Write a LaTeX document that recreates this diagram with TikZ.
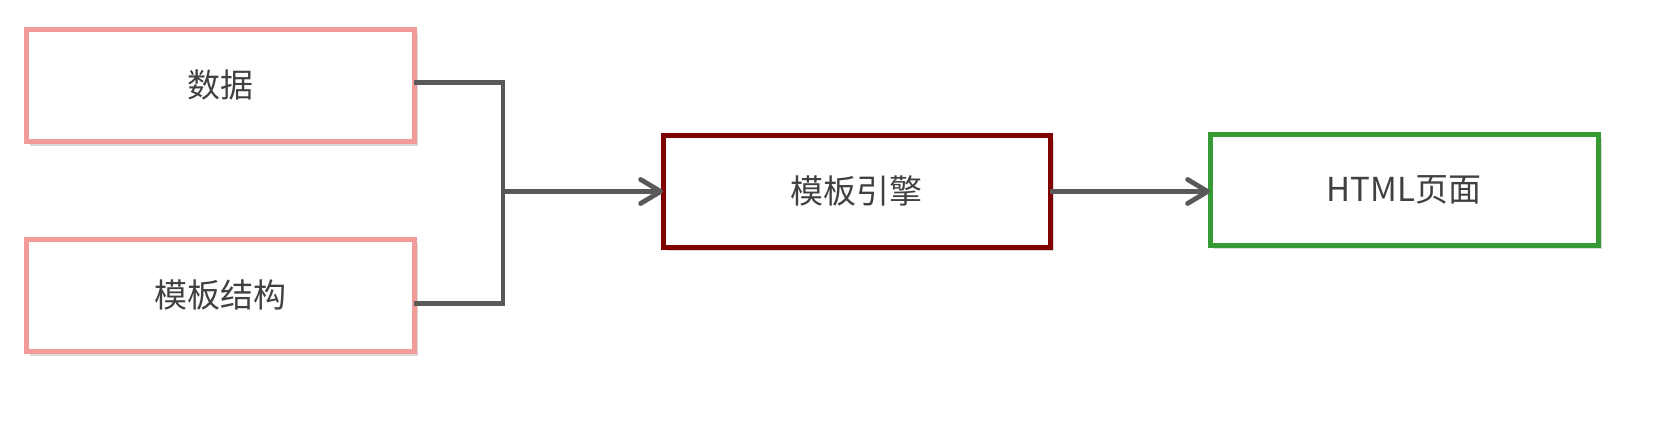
\documentclass[tikz,border=0pt]{standalone}
\usepackage{fontspec}
\newfontfamily\cjk{Noto Sans CJK SC}
\usetikzlibrary{arrows.meta,shadows,calc}
\definecolor{pinkline}{HTML}{F19C99}
\definecolor{darkred}{HTML}{800000}
\definecolor{greenline}{HTML}{369B35}
\definecolor{connline}{HTML}{595959}
\definecolor{txt}{HTML}{404040}
\tikzset{
  boxbase/.style={rectangle, draw, line width=5pt, fill=white, inner sep=0pt, outer sep=0pt,
    text=txt, font=\cjk\fontsize{33}{40}\selectfont,
    drop shadow={shadow xshift=4pt, shadow yshift=-4pt, opacity=0.15, fill=black}},
  srcbox/.style={boxbase, draw=pinkline, minimum width=388pt, minimum height=112.5pt},
  engbox/.style={boxbase, draw=darkred, minimum width=387pt, minimum height=112pt},
  outbox/.style={boxbase, draw=greenline, minimum width=388pt, minimum height=111pt},
  conn/.style={draw=connline, line width=4.8pt},
  chev/.tip={Straight Barb[length=20pt, width=24pt, line width=4.8pt, line cap=round, line join=round]}
}
\begin{document}
\begin{tikzpicture}[x=1pt, y=-1pt]
  \useasboundingbox (0,0) rectangle (1662,439);
  \fill[white] (0,0) rectangle (1662,439);
  \node[srcbox] (b1) at (220,85.25) {数据};
  \node[srcbox] (b2) at (220,295.25) {模板结构};
  \node[engbox] (mid) at (856.5,191) {模板引擎};
  \node[outbox] (out) at (1404,189.5) {HTML页面};
  \coordinate (j) at (503,191.5);
  \draw[conn, line join=miter] ([yshift=3pt]b1.east) -| (j);
  \draw[conn, line join=miter] ([yshift=-8pt]b2.east) -| (j);
  \draw[conn, -chev] (j) -- (j -| mid.west);
  \draw[conn, -chev] (mid.east |- j) -- (out.west |- j);
\end{tikzpicture}
\end{document}
